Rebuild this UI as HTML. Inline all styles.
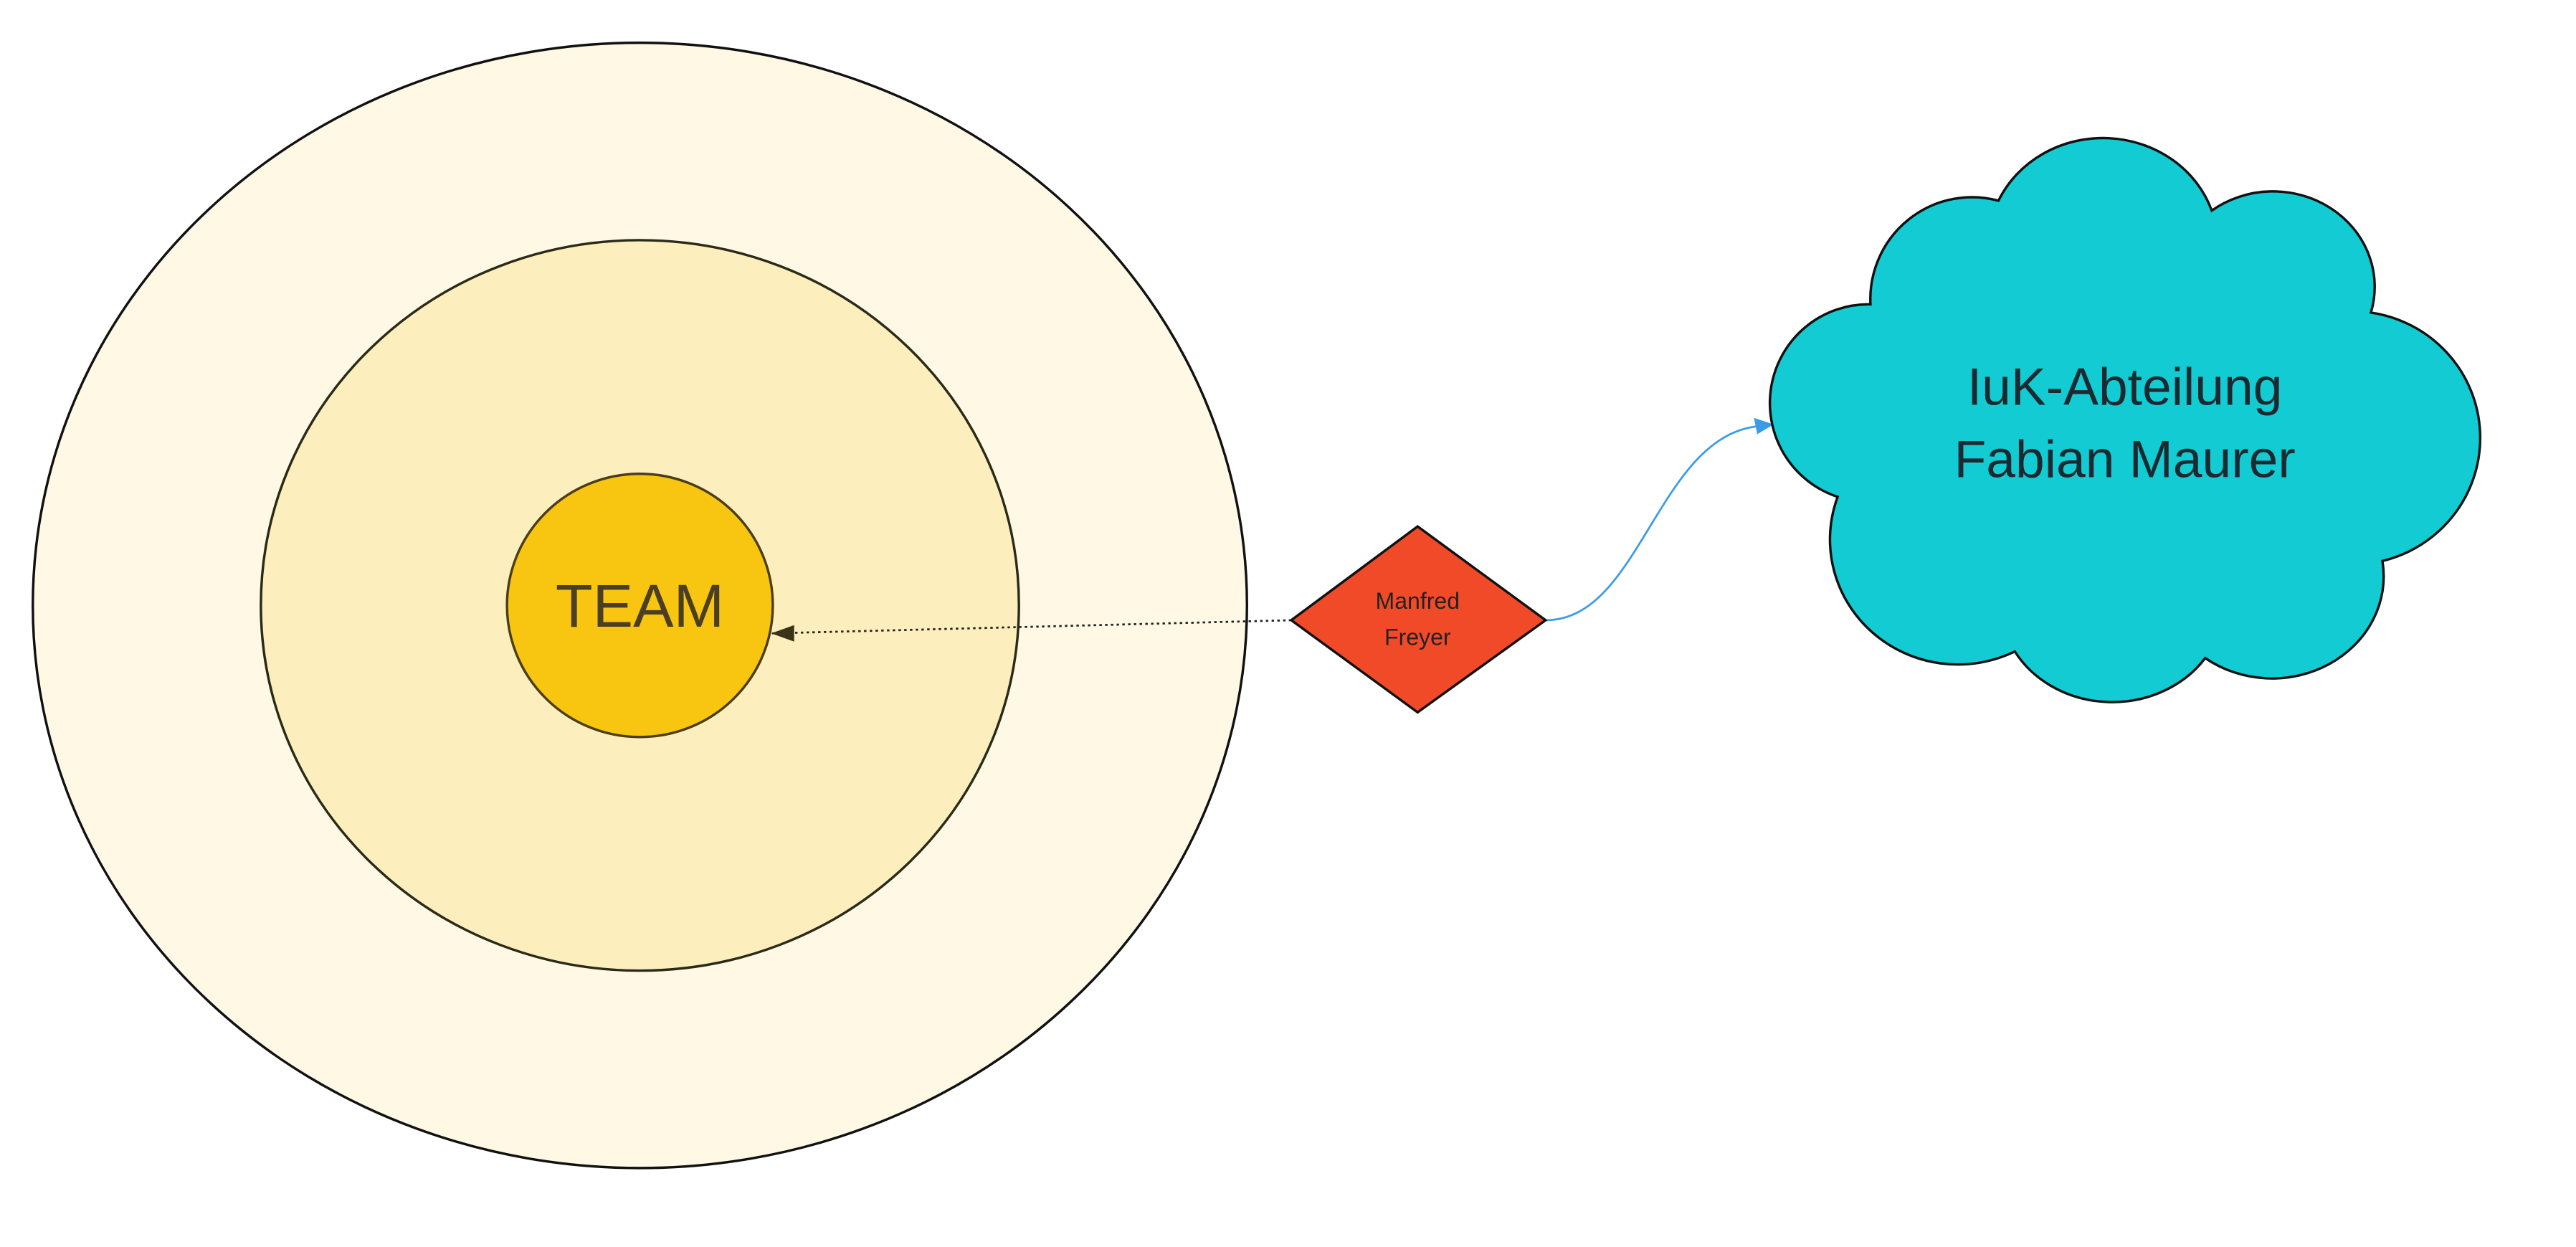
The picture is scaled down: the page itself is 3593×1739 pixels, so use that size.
<!DOCTYPE html>
<html><head><style>html,body{margin:0;padding:0;background:#fff}svg{display:block}</style></head>
<body>
<svg width="3593" height="1739" viewBox="0 0 1570 758" preserveAspectRatio="none" xmlns="http://www.w3.org/2000/svg" font-family="'Liberation Sans', sans-serif">
<ellipse cx="390" cy="368" rx="370" ry="342" fill="#fef8e4" stroke="#111" stroke-width="1.5"/>
<ellipse cx="390" cy="368" rx="231" ry="222" fill="#fcefbd" stroke="#2a2a18" stroke-width="1.5"/>
<ellipse cx="390" cy="368" rx="81" ry="80" fill="#f8c610" stroke="#4a3e1a" stroke-width="1.5"/>
<text x="390" y="381" font-size="37" text-anchor="middle" fill="#4a3f22">TEAM</text>
<path d="M787 377 L470 385" stroke="#222" stroke-width="1.2" stroke-dasharray="1.5,2" fill="none"/>
<polygon points="470,385 484,380 484,390" fill="#3b3318"/>
<path d="M942 377 C1000 377 1010 265 1072 259" stroke="#3a9be8" stroke-width="1.2" fill="none"/>
<polygon points="1081,258 1069,254 1071,264" fill="#3a9be8"/>
<polygon points="787,377 864,320 942,377 864,433" fill="#f04a28" stroke="#111" stroke-width="1.5"/>
<text x="864" y="370" font-size="14" text-anchor="middle" fill="#222">Manfred</text>
<text x="864" y="392" font-size="14" text-anchor="middle" fill="#222">Freyer</text>
<path d="M1218 122 A70 65 0 0 1 1348 128 A62 58 0 0 1 1445 190 A78 77 0 0 1 1452 341 A68 62 0 0 1 1344 400 A68 60 0 0 1 1228 396 A78 76 0 0 1 1120 302 A60 60 0 0 1 1140 185 A62 62 0 0 1 1218 122 Z" fill="#13cbd2" stroke="#111" stroke-width="1.5"/>
<text x="1295" y="246" font-size="32" text-anchor="middle" fill="#1a2a30">IuK-Abteilung</text>
<text x="1295" y="290" font-size="32" text-anchor="middle" fill="#1a2a30">Fabian Maurer</text>
</svg>
</body></html>
